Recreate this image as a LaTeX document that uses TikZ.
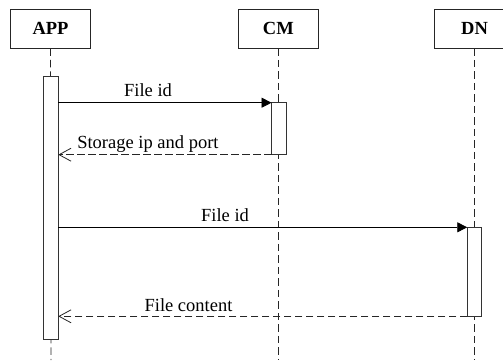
\documentclass[tikz,border=0pt]{standalone}
\usepackage{fontspec}
\setmainfont{Liberation Serif}
\usetikzlibrary{arrows.meta}
\begin{document}
\begin{tikzpicture}[x=1pt,y=-1pt,
  font=\fontsize{18.5}{22}\selectfont,
  every node/.style={inner sep=0pt, outer sep=0pt},
  header/.style={draw=black!85, line width=0.9pt, fill=white,
    minimum width=80pt, minimum height=39.5pt, font=\fontsize{18.5}{22}\selectfont\bfseries},
  lifeline/.style={draw=black!85, line width=0.8pt, dash pattern=on 7.5pt off 4pt},
  activation/.style={draw=black!80, line width=0.9pt, fill=white, anchor=north,
    minimum width=14.5pt},
  callmsg/.style={draw=black, line width=0.8pt, -{Triangle[length=10pt,width=10pt]}},
  replymsg/.style={draw=black!85, line width=0.8pt, dash pattern=on 7.5pt off 3.5pt,
    -{Straight Barb[length=12pt,width=13pt,line width=0.8pt]}},
  msglabel/.style={anchor=base}
]
\useasboundingbox (0,0) rectangle (503,360);
\begin{scope}
\clip (0,0) rectangle (503,360);

% participants
\node[header] (app) at (50.5,28.7) {APP};
\node[header] (cm)  at (278.3,28.7) {CM};
\node[header] (dn)  at (474.5,28.7) {DN};

% lifeline ends
\coordinate (append) at (51,360);
\coordinate (cmend)  at (278.3,360);
\coordinate (dnend)  at (474.5,360);

\draw[lifeline] (app.south) -- (append);
\draw[lifeline] (cm.south) -- (cmend);
\draw[lifeline] (dn.south) -- (dnend);

% activation bars
\node[activation, minimum height=263pt] (appact) at (51,76) {};
\node[activation, minimum height=52pt]  (cmact)  at (278.8,102.7) {};
\node[activation, minimum height=89pt]  (dnact)  at (474.5,227.3) {};

% messages
\draw[callmsg]  (appact.east |- cmact.north) -- (cmact.north west);
\draw[replymsg] (cmact.south west) -- (appact.east |- cmact.south);
\draw[callmsg]  (appact.east |- dnact.north) -- (dnact.north west);
\draw[replymsg] (dnact.south west) -- (appact.east |- dnact.south);

% message labels
\node[msglabel] (l1) at (148,96.5) {File id};
\node[msglabel, anchor=base west] (l2) at (77.3,148.3) {Storage ip and port};
\node[msglabel] (l3) at (225,221.7) {File id};
\node[msglabel] (l4) at (188.5,311.7) {File content};
\end{scope}
\end{tikzpicture}
\end{document}
